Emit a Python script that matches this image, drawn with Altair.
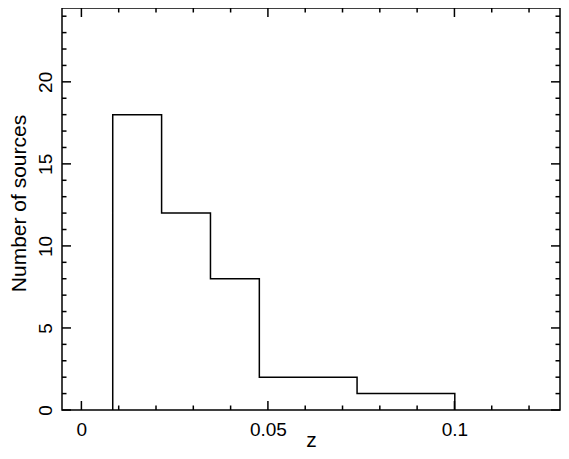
import altair as alt
import pandas as pd

# histogram bin edges (left edges + final right edge) and counts
edges = [0.0084, 0.0215, 0.0346, 0.0477, 0.0608, 0.0739, 0.0870, 0.1001]
counts = [18, 12, 8, 2, 2, 1, 1]

x_major = [0, 0.05, 0.1]
x_minor = [0.01, 0.02, 0.03, 0.04, 0.06, 0.07, 0.08, 0.09, 0.11, 0.12]
y_major = [0, 5, 10, 15, 20]
y_minor = [1, 2, 3, 4, 6, 7, 8, 9, 11, 12, 13, 14, 16, 17, 18, 19, 21, 22, 23, 24]

W, H = 498, 402
FONT = "Liberation Sans"

step_x = [edges[0]] + edges
step_y = [0] + counts + [0]
step_df = pd.DataFrame({"x": step_x, "y": step_y})

xs = alt.Scale(domain=[-0.0052, 0.1283], nice=False, zero=False)
ys = alt.Scale(domain=[0, 24.5], nice=False, zero=False)

ax_x = alt.Axis(values=x_major, format="~g", ticks=False, tickSize=0,
                domain=False, grid=False, labelFontSize=19,
                labelFont=FONT, labelColor="black",
                labelBaseline="alphabetic", labelPadding=25,
                titleFont=FONT, titleFontSize=21, titleFontWeight="normal",
                titleColor="black", titleBaseline="alphabetic",
                titleY=36, labelFlush=False)
ax_y = alt.Axis(values=y_major, ticks=False, tickSize=0, domain=False,
                grid=False, labelFontSize=19, labelFont=FONT,
                labelColor="black", labelAngle=270, labelAlign="center",
                labelBaseline="alphabetic", labelPadding=10.5,
                labelFlush=False,
                titleFont=FONT, titleFontSize=21, titleFontWeight="normal",
                titleColor="black", titleBaseline="alphabetic",
                titleX=-37, titleY=195)

X = lambda: alt.X("x:Q", scale=xs, axis=ax_x, title="z")
Y = lambda: alt.Y("y:Q", scale=ys, axis=ax_y, title="Number of sources")

line = alt.Chart(step_df).mark_line(
    interpolate="step-after", color="black", strokeWidth=1.5
).encode(x=X(), y=Y())


def xticks(vals, length):
    df = pd.DataFrame({"x": vals})
    bot = alt.Chart(df).mark_rule(color="black", strokeWidth=1.5).encode(
        x=X(), y=alt.value(H), y2=alt.value(H - length))
    top = alt.Chart(df).mark_rule(color="black", strokeWidth=1.5).encode(
        x=X(), y=alt.value(0), y2=alt.value(length))
    return [bot, top]


def yticks(vals, length):
    df = pd.DataFrame({"y": vals})
    left = alt.Chart(df).mark_rule(color="black", strokeWidth=1.5).encode(
        y=Y(), x=alt.value(0), x2=alt.value(length))
    right = alt.Chart(df).mark_rule(color="black", strokeWidth=1.5).encode(
        y=Y(), x=alt.value(W), x2=alt.value(W - length))
    return [left, right]


layers = [line] + xticks(x_major, 9) + xticks(x_minor, 4.5) + yticks(y_major, 9) + yticks(y_minor, 4.5)

chart = alt.layer(*layers).properties(
    width=W, height=H,
    autosize=alt.AutoSizeParams(type="none"),
    padding={"left": 54, "top": 0, "right": 1, "bottom": 41},
    background="white",
).configure_view(stroke="black", strokeWidth=1.5)

chart.save("out.html", embed_options={"renderer": "svg", "actions": False})
